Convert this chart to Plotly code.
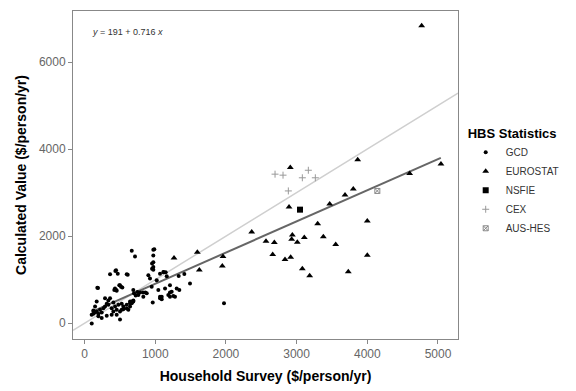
import plotly.graph_objects as go

# ---------------- data ----------------
gcd_x = [668, 714, 973, 973, 973, 973, 973, 446, 361, 597, 181, 431, 450, 502, 535, 690,
         761, 832, 880, 950, 1021, 1068, 1115, 1163, 1044, 1092, 1068, 1139, 1209, 1233,
         1304, 1185, 1209, 965, 1973, 502, 102,
         101, 125, 149, 172, 196, 219, 243, 267, 290, 314, 337, 361, 384, 408, 432, 455,
         479, 526, 550, 597, 644, 668, 691, 149, 172, 290, 337, 384, 243, 196, 125, 408,
         502, 314, 455,
         1120, 1148, 1412, 1332, 1341, 1492, 1256, 1280, 1209, 1068, 1092, 926, 903,
         827, 860, 785, 700, 724, 747, 597, 620, 644, 549, 526, 668, 690, 644, 421, 455,
         436, 470, 611, 191, 492, 516, 987, 955, 955]
gcd_y = [1667, 1531, 1690, 1554, 1403, 1290, 1228, 1215, 1124, 1124, 814, 799, 762, 875, 821, 762,
         649, 611, 686, 837, 989, 1138, 1176, 1079, 762, 611, 572, 799, 875, 724,
         799, 649, 611, 475, 459, 84, -7,
         196, 219, 249, 271, 219, 309, 249, 347, 385, 445, 520, 573, 347, 271, 385, 309,
         422, 445, 385, 422, 460, 498, 520, 385, 498, 573, 422, 196, 121, 158, 294, 475,
         271, 173, 196,
         1170, 1170, 1131, 1086, 762, 912, 627, 611, 708, 611, 550, 1025, 1101,
         708, 708, 708, 686, 640, 717, 339, 310, 385, 324, 310, 459, 498, 498, 762, 747,
         1199, 1138, 1116, 807, 875, 837, 1697, 1370, 1250]

eurostat_x = [2911, 3864, 5042, 4599, 3802, 3685, 3468, 2893, 3298, 4000, 2365, 2567,
              2685, 2940, 2930, 3010, 3109, 3378, 3553, 2662, 2836, 2916, 3081, 3185,
              3731, 4000, 1959, 1949, 1596, 1624, 1266, 4769]
eurostat_y = [3575, 3756, 3658, 3439, 3084, 2948, 2738, 2670, 2285, 2346, 2097, 1885,
              1855, 2029, 1930, 1862, 1968, 1984, 1810, 1577, 1463, 1516, 1251, 1093,
              1183, 1561, 1531, 1312, 1629, 1222, 1500, 6833]

nsfie_x = [3048]
nsfie_y = [2609]

cex_x = [2695, 2808, 3081, 3166, 3265, 2883]
cex_y = [3424, 3401, 3341, 3514, 3341, 3039]

aus_x = [4142]
aus_y = [3039]

fit_intercept = 191
fit_slope = 0.716
fit_x = [100, 5040]
one_to_one_x = [-163, 5283]

x_range = [-163, 5283]
y_range = [-362, 7172]
x_ticks = [0, 1000, 2000, 3000, 4000, 5000]
y_ticks = [0, 2000, 4000, 6000]

# ---------------- figure ----------------
fig = go.Figure()

fig.add_trace(go.Scatter(x=one_to_one_x, y=one_to_one_x, mode="lines",
                         line=dict(color="#cfcfcf", width=1.5), showlegend=False,
                         hoverinfo="skip"))
fig.add_trace(go.Scatter(x=fit_x, y=[fit_intercept + fit_slope * v for v in fit_x],
                         mode="lines", line=dict(color="#666666", width=2),
                         showlegend=False, hoverinfo="skip"))

fig.add_trace(go.Scatter(x=gcd_x, y=gcd_y, mode="markers", name="GCD",
                         marker=dict(symbol="circle", size=4, color="black")))
fig.add_trace(go.Scatter(x=eurostat_x, y=eurostat_y, mode="markers", name="EUROSTAT",
                         marker=dict(symbol="triangle-up", size=6, color="black")))
fig.add_trace(go.Scatter(x=nsfie_x, y=nsfie_y, mode="markers", name="NSFIE",
                         marker=dict(symbol="square", size=6, color="black")))
fig.add_trace(go.Scatter(x=cex_x, y=cex_y, mode="markers", name="CEX",
                         marker=dict(symbol="cross-thin", size=5, color="#999999",
                                     line=dict(color="#999999", width=1))))
fig.add_trace(go.Scatter(x=aus_x, y=aus_y, mode="markers", name="AUS-HES",
                         marker=dict(symbol="square-x-open", size=5, color="#888888",
                                     line=dict(color="#888888", width=1))))

axis_common = dict(showline=True, mirror=True, linecolor="#888888", linewidth=1,
                   ticks="outside", ticklen=4, tickcolor="#888888", showgrid=False,
                   zeroline=False, tickfont=dict(family="Liberation Sans, Arial", size=12,
                                                 color="#666666"))

fig.update_layout(
    width=576, height=391,
    margin=dict(l=73, r=118, t=10, b=48),
    paper_bgcolor="white", plot_bgcolor="white",
    font=dict(family="Liberation Sans, Arial"),
    xaxis=dict(range=x_range, tickvals=x_ticks,
               title=dict(text="<b>Household Survey ($/person/yr)</b>",
                          font=dict(size=14, color="black"), standoff=10),
               **axis_common),
    yaxis=dict(range=y_range, tickvals=y_ticks,
               title=dict(text="<b>Calculated Value ($/person/yr)</b>",
                          font=dict(size=14, color="black"), standoff=8),
               **axis_common),
    legend=dict(x=1.02, xanchor="left", y=0.665, yanchor="top",
                title=dict(text="<b>HBS Statistics</b>", font=dict(size=13, color="black")),
                font=dict(size=10, color="#333333"), tracegroupgap=0,
                itemwidth=30, bgcolor="rgba(0,0,0,0)"),
    annotations=[dict(text="<i>y</i> = 191 + 0.716 <i>x</i>", xref="paper", yref="paper",
                      x=0.045, y=0.935, xanchor="left", yanchor="middle", showarrow=False,
                      font=dict(size=9, color="#333333"))],
)

fig.write_html("out.html")
